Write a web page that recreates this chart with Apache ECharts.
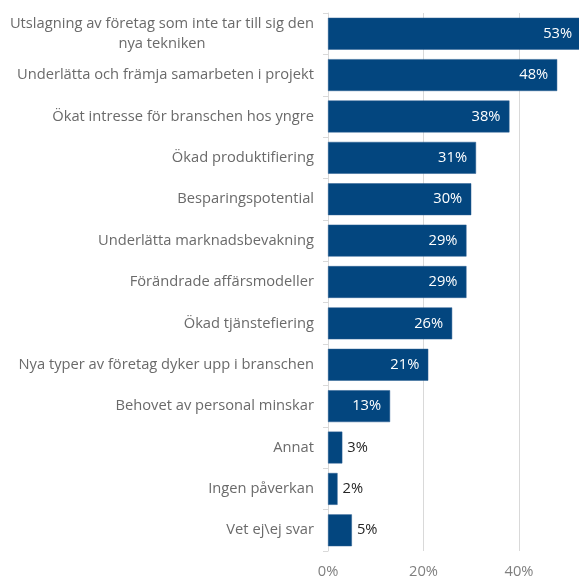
<!DOCTYPE html>
<html>
<head>
<meta charset="utf-8">
<script src="https://cdn.jsdelivr.net/npm/echarts@6/dist/echarts.min.js"></script>
<style>
  html, body { margin: 0; padding: 0; background: #fff; }
  #chart { width: 579px; height: 580px; }
</style>
</head>
<body>
<div id="chart"></div>
<script>
const categories = [
  "Utslagning av företag som inte tar till sig den\nnya tekniken",
  "Underlätta och främja samarbeten i projekt",
  "Ökat intresse för branschen hos yngre",
  "Ökad produktifiering",
  "Besparingspotential",
  "Underlätta marknadsbevakning",
  "Förändrade affärsmodeller",
  "Ökad tjänstefiering",
  "Nya typer av företag dyker upp i branschen",
  "Behovet av personal minskar",
  "Annat",
  "Ingen påverkan",
  "Vet ej\\ej svar"
];
const values = [0.53, 0.48, 0.38, 0.31, 0.30, 0.29, 0.29, 0.26, 0.21, 0.13, 0.03, 0.02, 0.05];
const xTicks = [0, 0.2, 0.4];

const FONT = "Open Sans";
const FS = 14.7;
const BLUE = "#03467f";

// small bars get their label outside in dark text
const seriesData = values.map(v => {
  if (v < 0.1) {
    return {
      value: v,
      label: { position: "right", color: "#262626", distance: 5 }
    };
  }
  return { value: v };
});

const chart = echarts.init(document.getElementById("chart"));
chart.setOption({
  animation: false,
  textStyle: { fontFamily: FONT },
  // 60% sits past the right edge, so the 53% bar is cut like in the source
  grid: { left: 328, width: 286.5, top: 13, bottom: 29, outerBoundsMode: "none" },
  xAxis: {
    type: "value",
    min: 0,
    max: 0.6,
    interval: 0.2,
    axisLine: { show: false },
    axisTick: { show: false },
    splitLine: { lineStyle: { color: "#d9d9d9", width: 1 } },
    axisLabel: {
      color: "#7f7f7f",
      fontSize: FS,
      fontFamily: FONT,
      margin: 13,
      formatter: v => xTicks.includes(Math.round(v * 10) / 10) ? Math.round(v * 100) + "%" : ""
    }
  },
  yAxis: {
    type: "category",
    data: categories,
    inverse: true,
    axisLine: { lineStyle: { color: "#d9d9d9" } },
    axisTick: { show: true, length: 5, lineStyle: { color: "#d9d9d9" } },
    axisLabel: {
      color: "#6a6a6a",
      fontSize: FS,
      fontFamily: FONT,
      margin: 14,
      lineHeight: 20,
      formatter: v => v.includes("\n") ? "{c|" + v + "}" : v,
      rich: {
        c: { width: 304, align: "center", color: "#6a6a6a", fontSize: FS, fontFamily: FONT, lineHeight: 20 }
      }
    }
  },
  series: [{
    type: "bar",
    data: seriesData,
    barCategoryGap: "23%",
    itemStyle: { color: BLUE, borderColor: "#2a5f92", borderWidth: 0.5 },
    label: {
      show: true,
      position: "insideRight",
      distance: 9,
      color: "#ffffff",
      fontSize: FS,
      fontFamily: FONT,
      formatter: p => Math.round(p.value * 100) + "%"
    }
  }]
});
</script>
</body>
</html>
